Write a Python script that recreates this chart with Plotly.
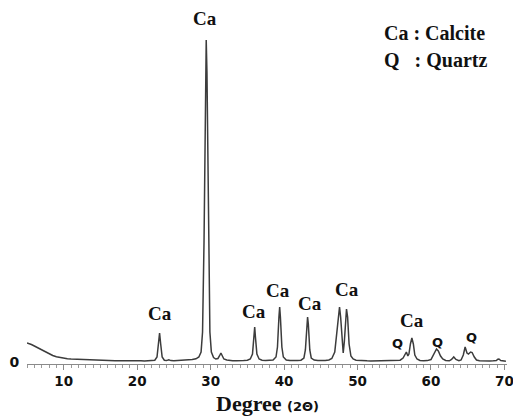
import plotly.graph_objects as go

# XRD pattern: 2-theta (deg) and intensity (a.u.)
two_theta = [
    5.0, 5.3, 5.6, 6.0, 6.5, 7.0, 7.5, 8.0, 8.5, 9.0, 9.5, 10.0, 10.5, 11.0, 11.5, 12.0,
    12.5, 13.0, 13.5, 14.0, 14.5, 15.0, 15.5, 16.0, 16.5, 17.0, 17.5, 18.0, 18.5, 19.0,
    19.5, 20.0, 20.5, 21.0, 21.5, 22.0, 22.4, 22.7, 22.9, 23.05, 23.2, 23.4, 23.7, 24.0,
    24.3, 24.6, 25.0, 25.5, 26.0, 26.5, 27.0, 27.5, 28.0, 28.4, 28.7, 28.9, 29.1, 29.3,
    29.4, 29.5, 29.7, 29.9, 30.1, 30.4, 30.7, 31.0, 31.2, 31.4, 31.6, 31.8, 32.2, 32.5,
    33.0, 33.5, 34.0, 34.5, 35.0, 35.4, 35.7, 35.9, 36.0, 36.1, 36.3, 36.6, 37.0, 37.5,
    38.0, 38.5, 38.9, 39.1, 39.3, 39.4, 39.5, 39.7, 39.9, 40.3, 40.8, 41.3, 41.8, 42.3,
    42.7, 42.9, 43.1, 43.2, 43.3, 43.5, 43.7, 44.1, 44.6, 45.1, 45.6, 46.1, 46.5, 46.9,
    47.2, 47.4, 47.55, 47.7, 47.9, 48.05, 48.2, 48.35, 48.5, 48.65, 48.85, 49.1, 49.4,
    49.8, 50.3, 50.8, 51.3, 51.8, 52.3, 52.8, 53.3, 53.8, 54.3, 54.8, 55.3, 55.8, 56.2,
    56.5, 56.65, 56.85, 57.0, 57.2, 57.4, 57.6, 57.8, 58.1, 58.5, 59.0, 59.5, 60.0, 60.3,
    60.6, 60.75, 61.0, 61.3, 61.6, 62.0, 62.5, 62.8, 63.1, 63.4, 63.8, 64.1, 64.4, 64.65,
    64.9, 65.1, 65.4, 65.6, 65.9, 66.2, 66.6, 67.0, 67.5, 68.0, 68.5, 68.9, 69.1, 69.25,
    69.5, 69.8, 70.2,
]
intensity = [
    190, 185, 175, 160, 140, 118, 98, 80, 65, 52, 44, 38, 33, 30, 28, 27,
    24, 22, 20, 19, 17, 16, 15, 14, 15, 13, 12, 13, 12, 11,
    12, 11, 12, 10, 12, 14, 18, 50, 180, 290, 180, 50, 18, 14,
    22, 14, 12, 14, 15, 18, 20, 24, 32, 50, 100, 300, 1200, 2900,
    3220, 2900, 1200, 300, 100, 45, 30, 35, 60, 90, 60, 30, 20, 15,
    12, 13, 12, 15, 18, 30, 80, 250, 350, 250, 80, 30, 18, 14,
    15, 20, 50, 150, 450, 550, 450, 150, 50, 20, 14, 12, 14, 18,
    40, 120, 380, 450, 380, 120, 40, 20, 14, 12, 15, 20, 35, 100,
    300, 500, 550, 450, 200, 90, 200, 450, 530, 450, 180, 60, 30,
    18, 14, 12, 12, 11, 12, 11, 12, 11, 12, 13, 14, 18, 40,
    90, 100, 60, 80, 180, 240, 180, 70, 30, 15, 12, 14, 25, 70,
    120, 130, 110, 60, 30, 15, 12, 25, 50, 25, 12, 20, 70, 150,
    90, 80, 100, 95, 50, 20, 12, 10, 12, 10, 12, 15, 28, 30,
    15, 10, 8,
]

# Peak labels
label_text = ["Ca", "Ca", "Ca", "Ca", "Ca", "Ca", "Ca", "Q", "Q", "Q"]
label_x = [23.1, 29.25, 35.9, 39.2, 43.5, 48.6, 57.35, 55.5, 60.95, 65.45]
label_y = [490, 3440, 510, 720, 590, 730, 420, 190, 200, 250]

x_ticks = [10, 20, 30, 40, 50, 60, 70]

fig = go.Figure()
fig.add_trace(go.Scatter(
    x=two_theta, y=intensity, mode="lines",
    line=dict(color="#3c3c3c", width=1.5),
    showlegend=False, hoverinfo="skip",
))

serif = "Liberation Serif"
sans = "DejaVu Sans"

for t, x, y in zip(label_text, label_x, label_y):
    is_q = t == "Q"
    fig.add_annotation(
        x=x, y=y, xref="x", yref="y", text=t, showarrow=False,
        font=dict(family=sans if is_q else serif, size=13 if is_q else 19,
                  color="#111111", weight="bold"),
        xanchor="center", yanchor="middle",
    )

H = 364.0  # plot area height in px
def py(ypx):
    return (H - ypx) / H

fig.add_annotation(x=(382 - 27) / 480, y=py(33), xref="paper", yref="paper",
                   text="Ca : Calcite", showarrow=False, xanchor="left", yanchor="middle",
                   font=dict(family=serif, size=20, color="#111111", weight="bold"))
fig.add_annotation(x=(382 - 27) / 480, y=py(60), xref="paper", yref="paper",
                   text="Q&nbsp;&nbsp;&nbsp;: Quartz", showarrow=False, xanchor="left", yanchor="middle",
                   font=dict(family=serif, size=20, color="#111111", weight="bold"))
fig.add_annotation(x=0.5, y=py(403), xref="paper", yref="paper",
                   text="Degree <span style='font-family:DejaVu Sans;font-size:13px'>(2Θ)</span>",
                   showarrow=False, xanchor="center", yanchor="middle",
                   font=dict(family=serif, size=22, color="#111111", weight="bold"))

fig.update_layout(
    width=513, height=419,
    margin=dict(l=27, r=6, t=0, b=55),
    paper_bgcolor="white", plot_bgcolor="white",
    xaxis=dict(
        range=[5, 70.35], showgrid=False, zeroline=False,
        showline=True, linecolor="#8a8a8a", linewidth=1,
        tickvals=x_ticks, ticks="outside", ticklen=5, tickcolor="#8a8a8a",
        ticklabeloverflow="allow",
        tickfont=dict(family=sans, size=13.5, color="#111111", weight="bold"),
        minor=dict(dtick=1, tick0=0, ticks="outside", ticklen=3, tickcolor="#9a9a9a"),
    ),
    yaxis=dict(
        range=[-20, 3620], showgrid=False, zeroline=False, showline=False,
        tickvals=[0], ticktext=["0"], ticks="outside", ticklen=4, tickcolor="rgba(0,0,0,0)",
        tickfont=dict(family=sans, size=14, color="#111111", weight="bold"),
    ),
)

fig.write_html("out.html")
